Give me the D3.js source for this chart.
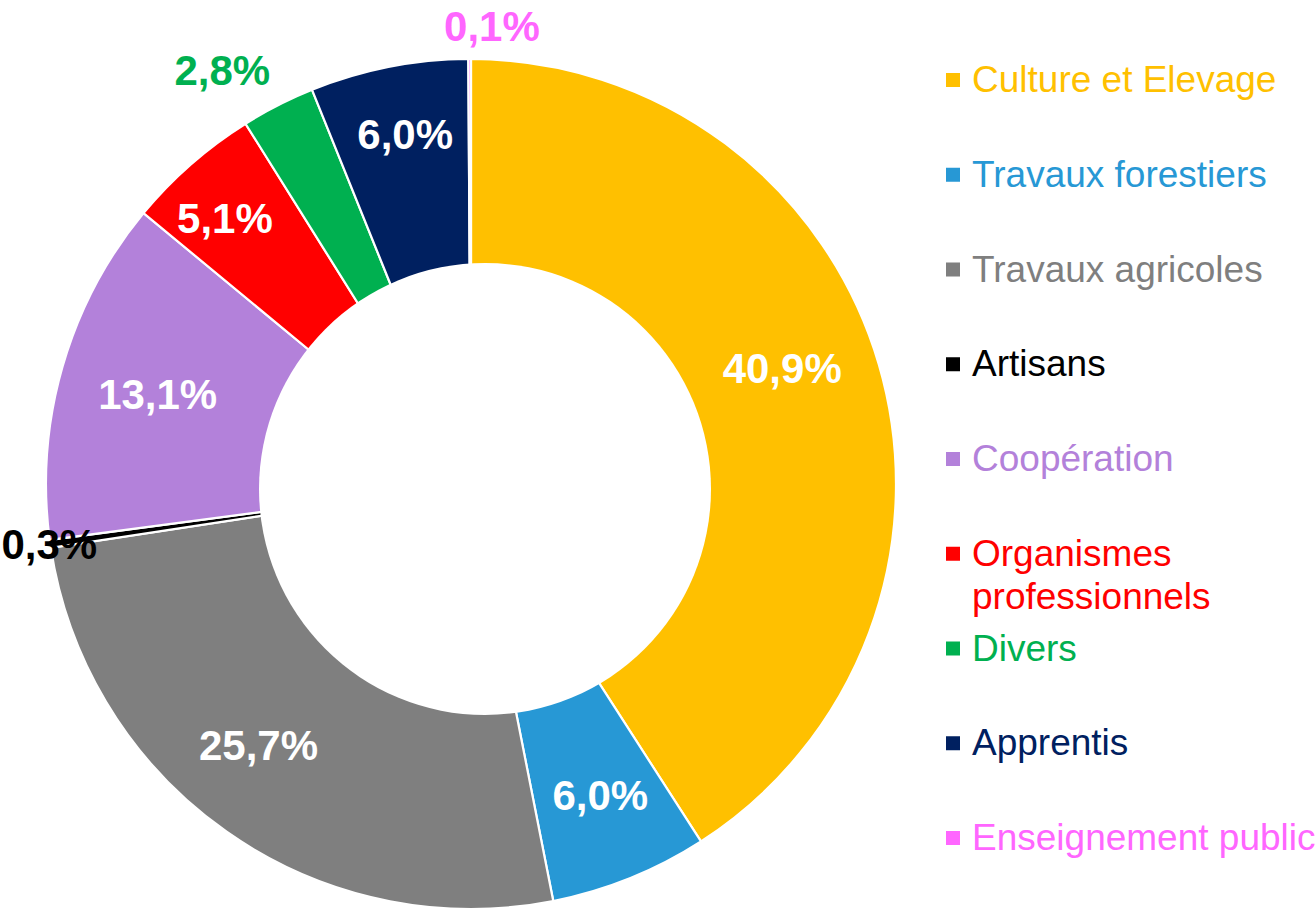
<!DOCTYPE html>
<html>
<head>
<meta charset="utf-8">
<script src="https://cdn.jsdelivr.net/npm/d3@7"></script>
<style>
  html, body { margin: 0; padding: 0; background: #ffffff; overflow: hidden; }
  svg { display: block; font-family: "Liberation Sans", Arial, sans-serif; }
</style>
</head>
<body>
<svg id="chart" width="1316" height="908"></svg>
<script>
// ---- data ----
const categories = ["Culture et Elevage", "Travaux forestiers", "Travaux agricoles", "Artisans",
  "Coopération", "Organismes professionnels", "Divers", "Apprentis", "Enseignement public"];
const values = [40.9, 6.0, 25.7, 0.3, 13.1, 5.1, 2.8, 6.0, 0.1];
const valueLabels = ["40,9%", "6,0%", "25,7%", "0,3%", "13,1%", "5,1%", "2,8%", "6,0%", "0,1%"];
const legendLines = [["Culture et Elevage"], ["Travaux forestiers"], ["Travaux agricoles"], ["Artisans"],
  ["Coopération"], ["Organismes", "professionnels"], ["Divers"], ["Apprentis"], ["Enseignement public"]];

// ---- styles ----
const colors = ["#FFC000", "#2798D5", "#7F7F7F", "#000000", "#B381DA", "#FF0000", "#00B050", "#002060", "#FF66FF"];
// label placement: radius from centre and angle tweak (degrees); outside labels take slice colour
const labelLayout = [
  {r: 332, da: -4, inside: true},
  {r: 337, da: -0.6, inside: true},
  {r: 337, da: 4, inside: true},
  {r: 426, da: 0, inside: false},
  {r: 326, da: 0, inside: true},
  {r: 362, da: -1.6, inside: true},
  {r: 483, da: -4, inside: false},
  {r: 356, da: 0.5, inside: true},
  {r: 458, da: 2.8, inside: false}
];

const svg = d3.select("#chart");
const cx = 471, cy = 484, R = 425;
const hole = {x: 485, y: 489, r: 226};

const pie = d3.pie().sort(null).value(d => d).startAngle(0).endAngle(2 * Math.PI);
const arcs = pie(values);
const arc = d3.arc().innerRadius(200).outerRadius(R);

const g = svg.append("g").attr("transform", `translate(${cx},${cy})`);
g.selectAll("path.slice")
  .data(arcs)
  .join("path")
  .attr("class", "slice")
  .attr("d", arc)
  .attr("fill", (d, i) => colors[i])
  .attr("stroke", "#ffffff")
  .attr("stroke-width", 2.2)
  .attr("stroke-linejoin", "miter");

// doughnut hole
svg.append("circle")
  .attr("cx", hole.x).attr("cy", hole.y).attr("r", hole.r)
  .attr("fill", "#ffffff");

// value labels
g.selectAll("text.val")
  .data(arcs)
  .join("text")
  .attr("class", "val")
  .each(function(d, i) {
    const L = labelLayout[i];
    const a = (d.startAngle + d.endAngle) / 2 + L.da * Math.PI / 180;
    d3.select(this)
      .attr("x", L.r * Math.sin(a))
      .attr("y", -L.r * Math.cos(a));
  })
  .attr("text-anchor", "middle")
  .attr("dominant-baseline", "central")
  .attr("font-size", 42)
  .attr("font-weight", "bold")
  .attr("fill", (d, i) => labelLayout[i].inside ? "#ffffff" : colors[i])
  .text((d, i) => valueLabels[i]);

// legend
const legY = d3.scalePoint().domain(d3.range(categories.length)).range([92, 850]);
const leg = svg.append("g");
const items = leg.selectAll("g.item")
  .data(categories)
  .join("g")
  .attr("class", "item")
  .attr("transform", (d, i) => `translate(946,${legY(i)})`);
items.append("rect")
  .attr("x", 0).attr("y", -19).attr("width", 14).attr("height", 14)
  .attr("fill", (d, i) => colors[i]);
items.append("text")
  .attr("x", 26)
  .attr("y", 0)
  .attr("font-size", 37)
  .attr("fill", (d, i) => colors[i])
  .selectAll("tspan")
  .data((d, i) => legendLines[i])
  .join("tspan")
  .attr("x", 26)
  .attr("dy", (d, j) => j === 0 ? 0 : 43)
  .text(d => d);
</script>
</body>
</html>
